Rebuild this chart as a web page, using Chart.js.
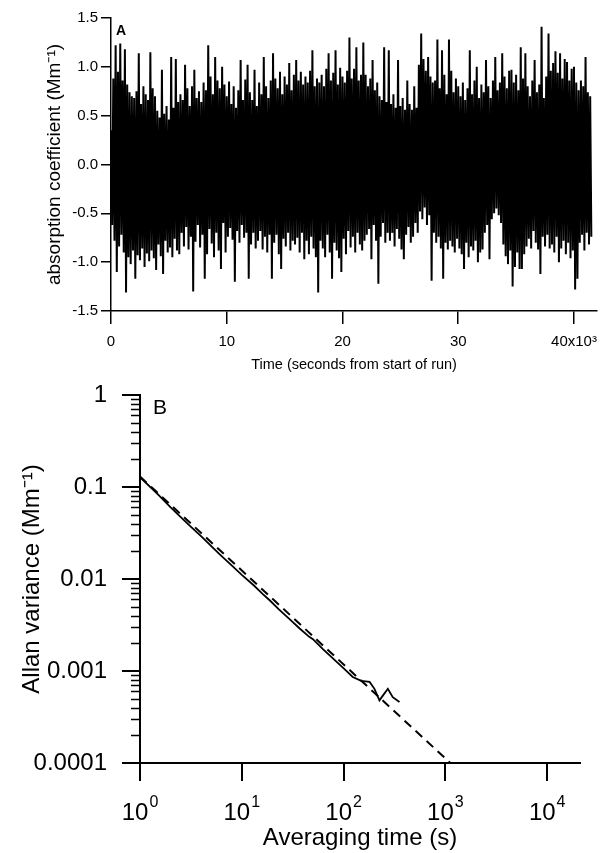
<!DOCTYPE html>
<html>
<head>
<meta charset="utf-8">
<script src="https://cdn.jsdelivr.net/npm/chart.js@4.4.1/dist/chart.umd.min.js"></script>
<style>
  html, body { margin: 0; padding: 0; background: #fff; }
  #wrap { position: relative; width: 606px; height: 853px; }
  canvas { position: absolute; left: 0; }
  #panelA { top: 0; }
  #panelB { top: 365px; }
</style>
</head>
<body>
<div id="wrap">
  <canvas id="panelA" width="606" height="380"></canvas>
  <canvas id="panelB" width="606" height="488"></canvas>
</div>
<script>
// --- panel A: absorption coefficient vs time ---
const sampleInterval = 100; // s between points
const absorption = [
  0.35,-0.62,0.88,-0.78,1.22,-1.10,0.95,-0.84,1.24,-0.72,0.86,-0.90,1.18,-1.31,0.82,-0.95,0.74,-1.02,0.70,-0.88,
  0.68,-1.17,0.75,-0.93,1.14,-0.98,0.62,-0.86,0.80,-1.05,0.72,-0.91,0.66,-0.99,1.15,-0.88,0.78,-0.96,0.70,-1.08,
  0.55,-0.82,0.48,-0.94,0.97,-1.12,0.52,-0.78,0.60,-0.90,0.46,-0.85,1.10,-0.95,0.58,-0.76,1.08,-0.88,0.64,-0.92,
  0.72,-0.70,0.66,-0.84,1.02,-0.64,0.78,-0.87,0.60,-0.74,0.80,-1.30,0.97,-0.79,0.68,-0.62,0.75,-0.85,0.64,-0.72,
  0.84,-1.17,0.76,-0.92,1.22,-0.66,0.90,-0.81,0.72,-0.95,1.10,-0.70,0.86,-0.88,0.78,-1.07,1.00,-0.60,0.82,-0.90,
  0.70,-0.74,0.85,-0.65,0.62,-0.77,0.80,-1.20,0.58,-0.68,0.76,-0.80,1.07,-0.62,0.66,-0.75,0.87,-0.70,1.02,-1.17,
  0.74,-0.82,0.66,-0.70,0.97,-0.86,0.60,-0.78,0.84,-0.68,0.72,-0.87,1.10,-0.74,0.80,-0.90,0.68,-0.72,0.86,-1.17,
  1.14,-0.80,0.88,-0.72,0.78,-0.92,0.95,-1.07,0.72,-0.76,0.90,-0.84,0.82,-0.70,1.04,-0.88,0.76,-0.78,0.92,-0.82,
  1.07,-0.75,0.86,-0.90,0.95,-0.70,0.82,-0.97,0.90,-0.78,0.84,-0.92,0.96,-0.74,1.17,-0.86,0.80,-0.95,0.88,-1.31,
  0.84,-0.78,0.92,-0.86,0.80,-0.95,0.98,-0.72,1.14,-0.90,0.86,-1.17,0.94,-0.80,1.17,-0.88,0.82,-0.96,0.99,-1.10,
  0.90,-0.76,0.84,-0.92,0.96,-0.68,1.30,-0.85,0.88,-0.74,0.98,-0.90,1.20,-0.70,0.86,-0.82,0.92,-0.88,1.25,-0.78,
  0.92,-0.72,0.80,-0.66,0.88,-0.97,1.07,-0.62,0.76,-0.78,0.84,-1.22,0.70,-0.74,0.66,-0.60,1.20,-0.80,0.64,-0.70,
  1.17,-0.78,0.62,-0.70,0.72,-0.84,0.58,-0.66,1.07,-0.76,0.60,-0.87,0.68,-0.97,0.56,-0.72,0.86,-0.64,0.62,-0.80,
  0.56,-0.74,0.80,-0.60,0.58,-0.70,1.02,-0.48,1.34,-0.56,1.08,-0.44,0.96,-0.62,1.10,-0.52,0.90,-1.19,0.84,-0.70,
  0.86,-0.80,1.28,-0.74,0.78,-0.86,1.17,-1.17,0.92,-0.80,0.72,-0.87,1.28,-0.78,0.96,-0.84,0.74,-0.90,0.88,-0.76,
  0.80,-0.86,0.70,-0.92,0.84,-1.07,0.66,-0.80,0.78,-0.95,1.17,-0.84,0.72,-0.88,0.86,-0.78,1.00,-1.00,0.68,-0.90,
  0.82,-0.87,0.74,-0.70,1.07,-0.62,0.80,-0.97,0.68,-0.56,0.86,-0.50,1.10,-0.45,0.76,-0.52,0.84,-0.60,1.14,-0.82,
  0.90,-0.94,0.78,-1.02,0.96,-0.88,0.97,-1.25,0.84,-1.05,0.92,-0.90,0.76,-1.07,1.20,-1.07,0.88,-0.92,1.14,-0.84,
  0.80,-0.76,0.70,-0.86,0.86,-0.68,1.07,-0.80,0.74,-0.87,0.82,-1.12,1.41,-0.74,0.68,-0.84,0.90,-0.72,1.34,-0.86,
  0.96,-0.82,1.04,-0.90,1.16,-0.74,0.94,-1.00,1.14,-0.86,0.88,-0.78,1.08,-0.92,1.05,-0.80,0.86,-0.96,0.98,-0.88,
  1.00,-1.28,0.84,-1.17,0.76,-0.80,0.86,-0.72,0.80,-0.88,1.10,-0.70,0.74,-0.82,0.70,-0.74
];
const timeTicks = [0, 10000, 20000, 30000, 40000];
const timeTickLabels = ['0', '10', '20', '30', '40x10³'];
const absTicks = [-1.5, -1.0, -0.5, 0, 0.5, 1.0, 1.5];
const absTickLabels = ['-1.5', '-1.0', '-0.5', '0.0', '0.5', '1.0', '1.5'];

// --- panel B: Allan variance vs averaging time ---
const avgTime = [1, 1.5, 2, 3, 4, 6, 8, 10, 13, 16, 19, 23, 27, 30, 37, 46, 50, 63, 79, 99, 123, 149, 180, 201, 225, 243, 272, 304, 354];
const allanVar = [0.128, 0.083, 0.060, 0.039, 0.029, 0.0188, 0.0140, 0.0111, 0.0086, 0.0069, 0.0058, 0.0047, 0.0040, 0.0036, 0.0029,
  0.00235, 0.00222, 0.00172, 0.00136, 0.00108, 0.00086, 0.00078, 0.00076, 0.00064, 0.00048, 0.00054, 0.00064, 0.00052, 0.00046];
const fitTime = [1, 1120];
const fitVar = [0.13, 0.0001];
const tauTicks = [1, 10, 100, 1000, 10000];
const tauTickBase = '10';
const tauTickExp = ['0', '1', '2', '3', '4'];
const varTicks = [0.0001, 0.001, 0.01, 0.1, 1];
const varTickLabels = ['0.0001', '0.001', '0.01', '0.1', '1'];
const minorSteps = [2, 3, 4, 5, 6, 7, 8, 9];

const family = "'Liberation Sans', Arial, Helvetica, sans-serif";

function fixedTicks(values) {
  return (scale) => { scale.ticks = values.map(v => ({ value: v })); };
}

// panel letter (A / B) in the top left corner of the plot
const letterPlugin = {
  id: 'panelLetter',
  afterDraw(chart, args, opts) {
    const { ctx, chartArea } = chart;
    ctx.save();
    ctx.font = opts.font;
    ctx.fillStyle = '#000';
    ctx.textBaseline = 'top';
    ctx.fillText(opts.text, chartArea.left + opts.dx, chartArea.top + opts.dy);
    ctx.restore();
  }
};

// short minor ticks between the decades of the log y axis
const minorTickPlugin = {
  id: 'minorTicks',
  afterDraw(chart, args, opts) {
    const y = chart.scales.y;
    const ctx = chart.ctx;
    ctx.save();
    ctx.strokeStyle = '#000';
    ctx.lineWidth = opts.width;
    ctx.beginPath();
    varTicks.slice(0, -1).forEach(d => {
      minorSteps.forEach(m => {
        const py = Math.round(y.getPixelForValue(d * m)) + 0.5;
        ctx.moveTo(y.right - opts.length, py);
        ctx.lineTo(y.right, py);
      });
    });
    ctx.stroke();
    ctx.restore();
  }
};

// 10^n tick labels with a real raised exponent
const expLabelPlugin = {
  id: 'expLabels',
  afterDraw(chart, args, opts) {
    const x = chart.scales.x;
    const ctx = chart.ctx;
    ctx.save();
    ctx.fillStyle = '#000';
    ctx.textBaseline = 'alphabetic';
    ctx.textAlign = 'left';
    tauTicks.forEach((v, i) => {
      ctx.font = opts.baseFont;
      const bw = ctx.measureText(tauTickBase).width;
      ctx.font = opts.expFont;
      const ew = ctx.measureText(tauTickExp[i]).width;
      const left = x.getPixelForValue(v) - (bw + ew + 1) / 2;
      ctx.font = opts.baseFont;
      ctx.fillText(tauTickBase, left, x.top + opts.baseline);
      ctx.font = opts.expFont;
      ctx.fillText(tauTickExp[i], left + bw + 1, x.top + opts.baseline - opts.raise);
    });
    ctx.restore();
  }
};

new Chart(document.getElementById('panelA'), {
  type: 'line',
  data: {
    datasets: [{
      data: absorption.map((v, i) => ({ x: i * sampleInterval, y: v })),
      borderColor: '#000',
      borderWidth: 2,
      pointRadius: 0,
      tension: 0,
      fill: false
    }]
  },
  options: {
    responsive: false,
    animation: false,
    events: [],
    layout: { padding: { top: 18, right: 2, bottom: 0, left: 0 } },
    plugins: {
      legend: { display: false },
      tooltip: { enabled: false },
      panelLetter: { text: 'A', font: 'bold 14px ' + family, dx: 5, dy: 6 }
    },
    scales: {
      x: {
        type: 'linear', min: 0, max: 42000,
        afterBuildTicks: fixedTicks(timeTicks),
        afterFit: (s) => { s.height = 69; },
        grid: { drawOnChartArea: false, tickLength: 13, color: '#000', lineWidth: 1.5 },
        border: { color: '#000', width: 1.5 },
        ticks: { color: '#000', font: { family, size: 15 }, padding: 9, maxRotation: 0, autoSkip: false,
          callback: (v, i) => timeTickLabels[i] },
        title: { display: true, text: 'Time (seconds from start of run)', color: '#000',
          font: { family, size: 14.5 }, padding: { top: 0, bottom: 6 } }
      },
      y: {
        min: -1.5, max: 1.5,
        afterBuildTicks: fixedTicks(absTicks),
        afterFit: (s) => { s.width = 111; },
        grid: { drawOnChartArea: false, tickLength: 10, color: '#000', lineWidth: 1.5 },
        border: { color: '#000', width: 1.5 },
        ticks: { color: '#000', font: { family, size: 15 }, padding: 3,
          callback: (v, i) => absTickLabels[i] },
        title: { display: true, text: 'absorption coefficient (Mm⁻¹)', color: '#000',
          font: { family, size: 19 }, padding: { top: 43, bottom: 0 } }
      }
    }
  },
  plugins: [letterPlugin]
});

new Chart(document.getElementById('panelB'), {
  type: 'line',
  data: {
    datasets: [{
      data: avgTime.map((t, i) => ({ x: t, y: allanVar[i] })),
      borderColor: '#000',
      borderWidth: 1.8,
      pointRadius: 0,
      tension: 0,
      fill: false
    }, {
      data: fitTime.map((t, i) => ({ x: t, y: fitVar[i] })),
      borderColor: '#000',
      borderWidth: 2,
      borderDash: [9, 6],
      pointRadius: 0,
      fill: false
    }]
  },
  options: {
    responsive: false,
    animation: false,
    events: [],
    layout: { padding: { top: 30, right: 26, bottom: 0, left: 0 } },
    plugins: {
      legend: { display: false },
      tooltip: { enabled: false },
      panelLetter: { text: 'B', font: '21px ' + family, dx: 13, dy: 3 },
      minorTicks: { length: 9, width: 1.5 },
      expLabels: { baseFont: '24px ' + family, expFont: '16px ' + family, baseline: 57, raise: 13 }
    },
    scales: {
      x: {
        type: 'logarithmic', min: 1, max: 21000,
        afterBuildTicks: fixedTicks(tauTicks),
        afterFit: (s) => { s.height = 90; },
        grid: { drawOnChartArea: false, tickLength: 18, color: '#000', lineWidth: 2 },
        border: { color: '#000', width: 2 },
        ticks: { display: false },
        title: { display: true, text: 'Averaging time (s)', color: '#000',
          font: { family, size: 24 }, padding: { top: 0, bottom: 0 } }
      },
      y: {
        type: 'logarithmic', min: 0.0001, max: 1,
        afterBuildTicks: fixedTicks(varTicks),
        afterFit: (s) => { s.width = 140; },
        grid: { drawOnChartArea: false, tickLength: 18, color: '#000', lineWidth: 2 },
        border: { color: '#000', width: 2 },
        ticks: { color: '#000', font: { family, size: 24 }, padding: 15,
          callback: (v, i) => varTickLabels[i] },
        title: { display: true, text: 'Allan variance (Mm⁻¹)', color: '#000',
          font: { family, size: 24 }, padding: { top: 18, bottom: 0 } }
      }
    }
  },
  plugins: [letterPlugin, minorTickPlugin, expLabelPlugin]
});
</script>
</body>
</html>
